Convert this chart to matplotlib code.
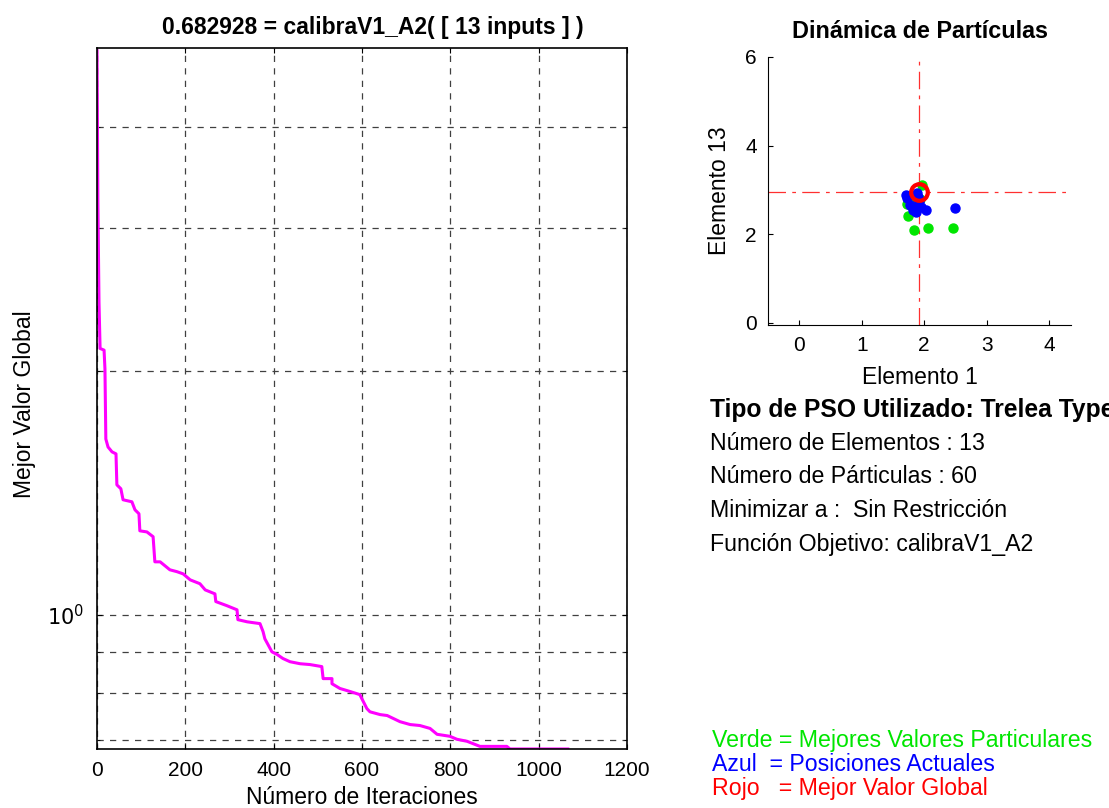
import numpy as np
import matplotlib
matplotlib.use("Agg")
from matplotlib import pyplot as plt
from matplotlib.ticker import FixedLocator, NullFormatter

plt.rcParams['font.family'] = ['Liberation Sans', 'DejaVu Sans']

# best global value per iteration
iters = [0, 2, 4.5, 7, 16, 18, 20, 25, 34, 43, 45, 54, 59, 79, 86, 95, 97, 113, 127, 131,
         143, 165, 181, 195, 211, 233, 245, 267, 269, 294, 317, 319, 340, 369, 376, 380,
         387, 396, 408, 421, 437, 460, 482, 509, 512, 532, 532, 550, 573, 595, 611, 618,
         641, 657, 686, 709, 731, 754, 770, 799, 815, 838, 867, 928, 935, 1066]
best_val = [4.96, 3.23, 2.43, 2.13, 2.12, 2.01, 1.647, 1.61, 1.588, 1.579, 1.446, 1.43,
            1.386, 1.378, 1.347, 1.332, 1.269, 1.265, 1.248, 1.162, 1.162, 1.136, 1.13,
            1.123, 1.104, 1.092, 1.073, 1.061, 1.038, 1.026, 1.014, 0.986, 0.980, 0.975,
            0.953, 0.934, 0.919, 0.900, 0.893, 0.883, 0.875, 0.870, 0.868, 0.863, 0.834,
            0.834, 0.822, 0.811, 0.804, 0.797, 0.766, 0.759, 0.753, 0.751, 0.738, 0.732,
            0.730, 0.724, 0.712, 0.708, 0.702, 0.698, 0.688, 0.688, 0.682928, 0.682928]

# particle positions (element 1, element 13)
green_x = [1.97, 1.77, 1.74, 1.83, 2.06, 2.46, 1.93, 1.73]
green_y = [3.11, 2.70, 2.42, 2.10, 2.14, 2.14, 2.80, 2.68]
blue_x = [1.71, 1.89, 1.90, 1.77, 1.85, 1.87, 2.03, 2.49, 1.92, 1.73, 1.82, 1.95]
blue_y = [2.89, 2.93, 2.84, 2.66, 2.59, 2.51, 2.55, 2.59, 2.75, 2.81, 2.55, 2.62]
gbest = (1.915, 2.95)

info_lines = ["Número de Elementos : 13", "Número de Párticulas : 60",
              "Minimizar a :  Sin Restricción", "Función Objetivo: calibraV1_A2"]

fig = plt.figure(figsize=(11.09, 8.08), dpi=100)

# left: convergence
ax = fig.add_axes([97/1109, 1-749/808, 530/1109, 701/808])
ax.plot(iters, best_val, color='#ff00ff', lw=2.2)
ax.set_yscale('log')
ax.set_xlim(0, 1200)
ax.set_ylim(0.6829, 5.0)
ax.set_xticks(range(0, 1201, 200))
ax.yaxis.set_major_locator(FixedLocator([1.0]))
ax.yaxis.set_minor_locator(FixedLocator([0.7, 0.8, 0.9, 2, 3, 4]))
ax.yaxis.set_minor_formatter(NullFormatter())
ax.set_yticklabels([r'$10^0$'])
ax.grid(True, which='both', ls=(0, (5, 5)), color='0.25', lw=0.9)
ax.tick_params(which='both', direction='in', top=True, right=True, labelsize=15, pad=9)
for s in ax.spines.values():
    s.set_linewidth(1.2)
ax.set_title("0.682928 = calibraV1_A2( [ 13 inputs ] )", fontsize=16.5, fontweight='bold',
             pad=10, x=0.52)
ax.set_xlabel("Número de Iteraciones", fontsize=16.5, labelpad=4)
ax.set_ylabel("Mejor Valor Global", fontsize=16.5)
ax.yaxis.set_label_coords(25/1109, 0.5, transform=fig.transFigure)
ax.yaxis.label.set_va('center')

# right: particle dynamics
ax2 = fig.add_axes([768/1109, 1-325/808, 303/1109, 268/808])
ax2.axvline(gbest[0], color='#ff3030', ls=(0, (14, 5, 3, 5)), lw=0.9)
ax2.axhline(gbest[1], color='#ff3030', ls=(0, (14, 5, 3, 5)), lw=0.9)
ax2.plot(green_x, green_y, 'o', color='#00e600', ms=6.5)
ax2.plot(blue_x, blue_y, 'o', color='#0000ff', ms=6.5)
ax2.plot(gbest[0], gbest[1], 'o', mfc='none', mec='red', mew=3, ms=12)
ax2.set_xlim(-0.5, 4.35)
ax2.set_ylim(-0.05, 6)
ax2.set_xticks([0, 1, 2, 3, 4])
ax2.set_yticks([0, 2, 4, 6])
ax2.spines['top'].set_visible(False)
ax2.spines['right'].set_visible(False)
ax2.tick_params(direction='in', labelsize=15, pad=8)
ax2.set_title("Dinámica de Partículas", fontsize=16.8, fontweight='bold', pad=14)
ax2.set_xlabel("Elemento 1", fontsize=16.5, labelpad=8)
ax2.set_ylabel("Elemento 13", fontsize=16.5, labelpad=10)

fig.text(710/1109, 1-410/808, "Tipo de PSO Utilizado: Trelea Type 1", fontsize=17.7,
         fontweight='bold', va='center')
for i, t in enumerate(info_lines):
    fig.text(710/1109, 1-(443+i*33.7)/808, t, fontsize=16.7, va='center')

legend_txt = ["Verde = Mejores Valores Particulares", "Azul  = Posiciones Actuales",
              "Rojo   = Mejor Valor Global"]
legend_col = ['#00e600', '#0000ff', '#ff0000']
for i, (t, c) in enumerate(zip(legend_txt, legend_col)):
    fig.text(712/1109, 1-(741+i*23.5)/808, t, fontsize=16.7, color=c, va='center')

fig.savefig("out.png", dpi=100)
